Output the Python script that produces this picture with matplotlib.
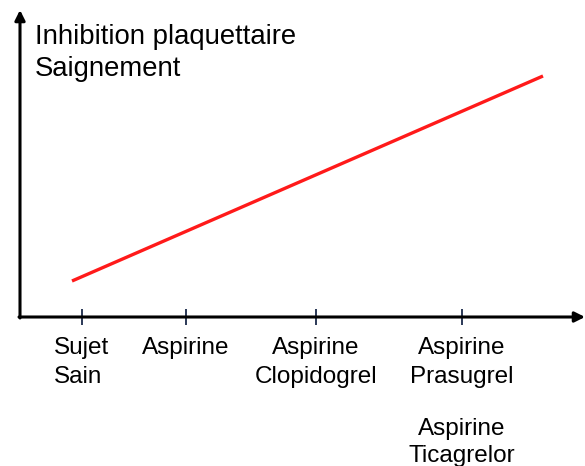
import matplotlib.pyplot as plt

plt.rcParams['font.family'] = ['Liberation Sans', 'DejaVu Sans']

# axis categories (therapies) and where they sit on the x scale
categories = ["Sujet\nSain", "Aspirine", "Aspirine\nClopidogrel", "Aspirine\nPrasugrel"]
cat_x = [6.2, 16.6, 29.6, 44.2]
extra_label = "Aspirine\nTicagrelor"

# red trend line: inhibition / bleeding rising with treatment intensity
line_x = [5.2, 52.3]
line_y = [3.6, 24.1]

y_title = ["Inhibition plaquettaire", "Saignement"]

fig = plt.figure(figsize=(5.85, 4.66), dpi=100)
ax = fig.add_axes([20 / 585, 149 / 466, 565 / 585, 307 / 466])
ax.set_xlim(0, 56.5)
ax.set_ylim(0, 30.7)
for s in ax.spines.values():
    s.set_visible(False)

# axes with arrow heads
arrow = dict(arrowstyle='-|>,head_length=0.6,head_width=0.3', lw=2.2, color='black',
             shrinkA=0, shrinkB=0)
ax.annotate('', xy=(56.5, 0), xytext=(-0.1, 0), arrowprops=arrow, annotation_clip=False)
ax.annotate('', xy=(0, 30.7), xytext=(0, -0.1), arrowprops=arrow, annotation_clip=False)

ax.plot(line_x, line_y, color='#ff1a1a', lw=2.4, solid_capstyle='butt')

ax.set_yticks([])
ax.set_xticks(cat_x, categories, fontsize=17.5)
ax.tick_params(axis='x', direction='inout', length=11, width=1.3, color='#1a2a4a', pad=9)
for lab in ax.get_xticklabels():
    lab.set_linespacing(1.4)
ax.get_xticklabels()[0].set_multialignment('left')

ax.text(cat_x[3], -0.33, extra_label, transform=ax.get_xaxis_transform(),
        ha='center', va='top', fontsize=17.5, linespacing=1.3)

fig.text(35 / 585, 1 - 44 / 466, y_title[0], fontsize=19.8, va='baseline')
fig.text(35 / 585, 1 - 76 / 466, y_title[1], fontsize=19.8, va='baseline')

fig.savefig('out.png', dpi=100)
